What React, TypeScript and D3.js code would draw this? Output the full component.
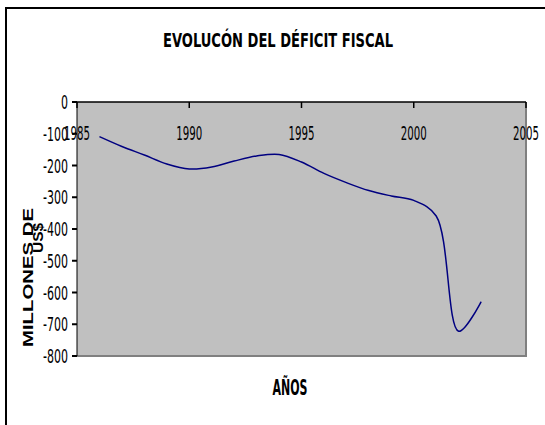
import React, { useEffect, useRef } from "react";
import * as d3 from "d3";

// years on the x axis and the deficit (millones de US$)
const years = [1986, 1987, 1988, 1989, 1990, 1991, 1992, 1993, 1994, 1995, 1996, 1997, 1998, 1999, 2000, 2001, 2002, 2003];
const deficit = [-109, -140, -167, -195, -211, -205, -186, -170, -165, -189, -225, -254, -279, -296, -310, -359, -722, -629];
const xTicks = [1985, 1990, 1995, 2000, 2005];
const yTicks = [0, -100, -200, -300, -400, -500, -600, -700, -800];

const App = () => {
  const ref = useRef<SVGSVGElement | null>(null);

  useEffect(() => {
    drawChart();
  }, []);

  const drawChart = () => {
    const svg = d3.select(ref.current);
    svg.selectAll("*").remove();

    const W = 545, H = 425;
    const left = 77, right = 526, top = 102, bottom = 356;
    const narrow = "'Liberation Sans Narrow', 'Arial Narrow', 'DejaVu Sans Condensed', sans-serif";

    // outer frame
    svg.append("rect")
      .attr("x", 6).attr("y", 8)
      .attr("width", W + 20).attr("height", H + 20)
      .attr("fill", "#fff").attr("stroke", "#000").attr("stroke-width", 2);

    const x = d3.scaleLinear().domain([1985, 2005]).range([left, right]);
    const y = d3.scaleLinear().domain([0, -800]).range([top, bottom]);

    // plot area
    svg.append("rect")
      .attr("x", left).attr("y", top)
      .attr("width", right - left).attr("height", bottom - top)
      .attr("fill", "#c0c0c0");
    svg.append("path")
      .attr("d", `M${right},${top}V${bottom}H${left}`)
      .attr("fill", "none").attr("stroke", "#808080").attr("stroke-width", 2);

    // title
    svg.append("text")
      .attr("x", 278).attr("y", 47)
      .attr("text-anchor", "middle")
      .attr("font-family", narrow).attr("font-weight", "bold").attr("font-size", 20)
      .attr("textLength", 230).attr("lengthAdjust", "spacingAndGlyphs")
      .text("EVOLUCÓN DEL DÉFICIT FISCAL");

    // x axis along the top (value 0)
    const xAxis = svg.append("g").attr("transform", `translate(0,${top})`);
    xAxis.append("line").attr("x1", left).attr("x2", right).attr("stroke", "#000").attr("stroke-width", 1.5);
    xAxis.selectAll("line.tick").data(xTicks).enter().append("line")
      .attr("class", "tick")
      .attr("x1", (d) => x(d)).attr("x2", (d) => x(d))
      .attr("y1", 0).attr("y2", 6)
      .attr("stroke", "#000").attr("stroke-width", 1.5);
    xAxis.selectAll("text").data(xTicks).enter().append("text")
      .attr("x", (d) => x(d)).attr("y", 38)
      .attr("text-anchor", "middle")
      .attr("font-family", narrow).attr("font-size", 20)
      .attr("textLength", 26).attr("lengthAdjust", "spacingAndGlyphs")
      .text((d) => d);

    // y axis
    const yAxis = svg.append("g").attr("transform", `translate(${left},0)`);
    yAxis.append("line").attr("y1", top).attr("y2", bottom).attr("stroke", "#000").attr("stroke-width", 1);
    yAxis.selectAll("line.tick").data(yTicks).enter().append("line")
      .attr("class", "tick")
      .attr("x1", -5).attr("x2", 0)
      .attr("y1", (d) => y(d)).attr("y2", (d) => y(d))
      .attr("stroke", "#000").attr("stroke-width", 2);
    yAxis.selectAll("text").data(yTicks).enter().append("text")
      .attr("x", -9).attr("y", (d) => y(d) + 7)
      .attr("text-anchor", "end")
      .attr("font-family", narrow).attr("font-size", 20)
      .attr("textLength", (d) => (d === 0 ? 7 : 25)).attr("lengthAdjust", "spacingAndGlyphs")
      .text((d) => d);

    // axis titles
    svg.append("text")
      .attr("transform", "translate(33,347) rotate(-90)")
      .attr("font-family", "'Liberation Sans', Arial, sans-serif").attr("font-weight", "bold").attr("font-size", 15)
      .attr("textLength", 139).attr("lengthAdjust", "spacingAndGlyphs")
      .text("MILLONES DE");
    svg.append("text")
      .attr("transform", "translate(43,253) rotate(-90)")
      .attr("font-family", "'Liberation Sans', Arial, sans-serif").attr("font-weight", "bold").attr("font-size", 15)
      .attr("textLength", 30).attr("lengthAdjust", "spacingAndGlyphs")
      .text("US$");
    svg.append("text")
      .attr("x", 290).attr("y", 395)
      .attr("text-anchor", "middle")
      .attr("font-family", narrow).attr("font-weight", "bold").attr("font-size", 21)
      .attr("textLength", 35).attr("lengthAdjust", "spacingAndGlyphs")
      .text("AÑOS");

    // the smoothed line
    const line = d3.line<number>()
      .x((d, i) => x(years[i]))
      .y((d) => y(d))
      .curve(d3.curveCatmullRom.alpha(0.5));
    svg.append("path")
      .datum(deficit)
      .attr("d", line)
      .attr("fill", "none")
      .attr("stroke", "#000080")
      .attr("stroke-width", 1.5);
  };

  return (
    <svg
      ref={ref}
      width={545}
      height={425}
      style={{ position: "absolute", left: 0, top: 0, background: "#fff" }}
    />
  );
};

export default App;
